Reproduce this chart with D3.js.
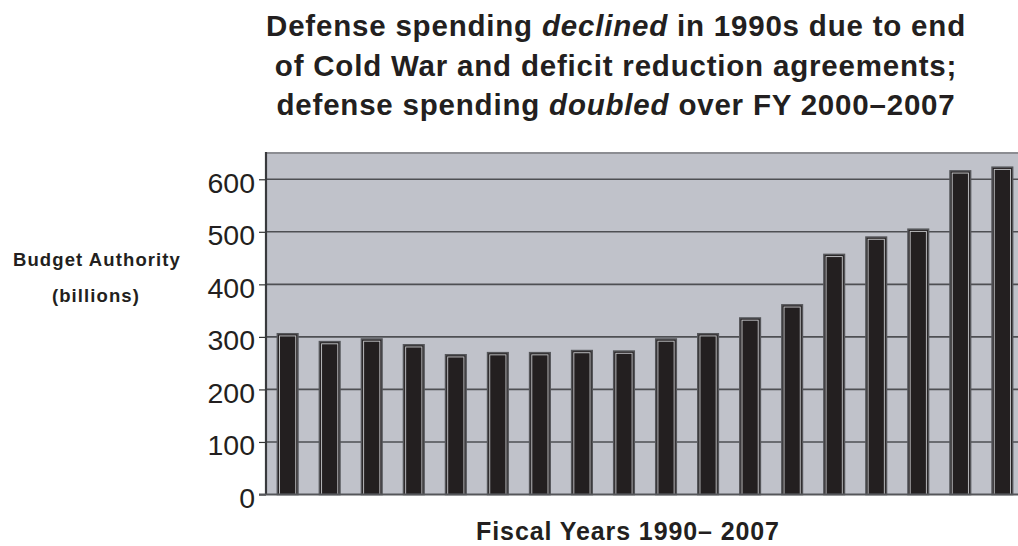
<!DOCTYPE html>
<html>
<head>
<meta charset="utf-8">
<script src="https://cdn.jsdelivr.net/npm/d3@7"></script>
<style>
  html, body { margin: 0; padding: 0; background: #ffffff; }
  svg { display: block; }
  text { font-family: "Liberation Sans", Arial, Helvetica, sans-serif; fill: #231f20; }
</style>
</head>
<body>
<svg id="chart" width="1018" height="546"></svg>
<script>
// Defense budget authority by fiscal year, billions of dollars
const years = ["1990","1991","1992","1993","1994","1995","1996","1997","1998",
               "1999","2000","2001","2002","2003","2004","2005","2006","2007"];
const budgetAuthority = [306, 291, 296, 285, 266, 270, 270, 274, 273,
                         296, 306, 336, 361, 457, 490, 505, 616, 623];
const yTicks = [0, 100, 200, 300, 400, 500, 600];

const titleLines = [
  [{t: "Defense spending  "}, {t: "declined", i: true}, {t: " in 1990s due to end"}],
  [{t: "of Cold War and deficit reduction agreements;"}],
  [{t: "defense spending  "}, {t: "doubled", i: true}, {t: " over FY 2000\u20132007"}]
];

const svg = d3.select("#chart");
const plot = {left: 266, top: 153, right: 1024, bottom: 494.5};

const x = d3.scaleBand()
  .domain(years)
  .range([plot.left, plot.right])
  .paddingInner(0.51)
  .paddingOuter(0.27);

const y = d3.scaleLinear()
  .domain([0, 650])
  .range([plot.bottom, plot.top]);

// plot background
svg.append("rect")
  .attr("x", plot.left).attr("y", plot.top)
  .attr("width", plot.right - plot.left).attr("height", plot.bottom - plot.top)
  .attr("fill", "#c0c2ca");

// top border
svg.append("line")
  .attr("x1", plot.left).attr("x2", plot.right)
  .attr("y1", plot.top).attr("y2", plot.top)
  .attr("stroke", "#8c8d92").attr("stroke-width", 2);

// horizontal gridlines
svg.append("g").selectAll("line")
  .data(yTicks.filter(d => d > 0))
  .join("line")
  .attr("x1", plot.left).attr("x2", plot.right)
  .attr("y1", d => y(d)).attr("y2", d => y(d))
  .attr("stroke", "#4e4f53").attr("stroke-width", 1.6);

// bars: dark fill with a thin light inner edge
const bars = svg.append("g").selectAll("g")
  .data(years.map((yr, i) => ({yr, v: budgetAuthority[i]})))
  .join("g");

bars.append("rect")
  .attr("x", d => x(d.yr))
  .attr("y", d => y(d.v))
  .attr("width", x.bandwidth())
  .attr("height", d => plot.bottom - y(d.v))
  .attr("fill", "#231f20")
  .attr("stroke", "#55565a")
  .attr("stroke-width", 1.5);

bars.append("rect")
  .attr("x", d => x(d.yr) + 2.2)
  .attr("y", d => y(d.v) + 2.2)
  .attr("width", x.bandwidth() - 4.4)
  .attr("height", d => plot.bottom - y(d.v) - 2.2)
  .attr("fill", "none")
  .attr("stroke", "#c9cacd")
  .attr("stroke-width", 0.9);

// y axis with ticks and labels
const yAxis = d3.axisLeft(y)
  .tickValues(yTicks)
  .tickSize(7)
  .tickPadding(4)
  .tickFormat(d3.format("d"));

const gy = svg.append("g")
  .attr("transform", `translate(${plot.left},0)`)
  .call(yAxis);
gy.select(".domain").remove();
gy.selectAll(".tick line").attr("stroke", "#333").attr("stroke-width", 1.2);
gy.selectAll(".tick text")
  .attr("font-size", 28.5)
  .attr("dy", "0.45em")
  .attr("font-family", "\"Liberation Sans\", Arial, sans-serif")
  .attr("fill", "#231f20");

// axis lines
svg.append("line")
  .attr("x1", plot.left).attr("x2", plot.left)
  .attr("y1", plot.top - 1).attr("y2", plot.bottom)
  .attr("stroke", "#38393c").attr("stroke-width", 2.2);
svg.append("line")
  .attr("x1", plot.left - 7).attr("x2", plot.right)
  .attr("y1", plot.bottom).attr("y2", plot.bottom)
  .attr("stroke", "#55565a").attr("stroke-width", 2);

// title
const title = svg.append("text")
  .attr("text-anchor", "middle")
  .attr("font-size", 29.5)
  .attr("font-weight", "bold")
  .attr("letter-spacing", 0.8);
titleLines.forEach((parts, li) => {
  parts.forEach((p, pi) => {
    const ts = title.append("tspan").text(p.t);
    if (pi === 0) ts.attr("x", 616).attr("y", 36 + li * 39.5);
    if (p.i) ts.attr("font-style", "italic");
  });
});

// y axis title
svg.append("text")
  .attr("x", 97).attr("y", 266)
  .attr("text-anchor", "middle")
  .attr("font-size", 18.5)
  .attr("font-weight", "bold")
  .attr("letter-spacing", 1.1)
  .text("Budget Authority");
svg.append("text")
  .attr("x", 96).attr("y", 302)
  .attr("text-anchor", "middle")
  .attr("font-size", 18.5)
  .attr("font-weight", "bold")
  .attr("letter-spacing", 1.1)
  .text("(billions)");

// x axis title
svg.append("text")
  .attr("x", 628).attr("y", 540)
  .attr("text-anchor", "middle")
  .attr("font-size", 25)
  .attr("font-weight", "bold")
  .attr("letter-spacing", 0.9)
  .text("Fiscal Years 1990\u2013 2007");
</script>
</body>
</html>
